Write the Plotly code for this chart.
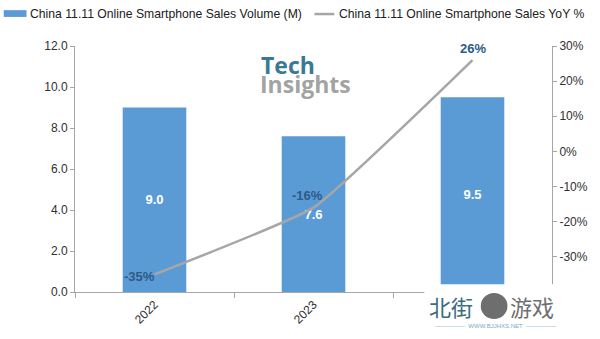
import plotly.graph_objects as go

years = ["2022", "2023", "2024"]
volume = [9.0, 7.6, 9.5]
yoy = [-35, -16, 26]
vol_labels = ["<b>9.0</b>", "<b>7.6</b>", "<b>9.5</b>"]
yoy_labels = ["-35%", "-16%", "26%"]
left_ticks = [0, 2, 4, 6, 8, 10, 12]
right_ticks = [-30, -20, -10, 0, 10, 20, 30]
series_names = ["China 11.11 Online Smartphone Sales Volume (M)",
                "China 11.11 Online Smartphone Sales YoY %"]

FONT = "Liberation Sans"
AX = "#A6A6A6"
L, R, T, B, W, H = 75, 43, 46, 39, 600, 339
PW, PH = W - L - R, H - T - B


def px(x):
    return (x - L) / PW


def py(y):
    return (H - B - y) / PH


fig = go.Figure()
fig.add_trace(go.Bar(
    x=years, y=volume, name=series_names[0],
    marker=dict(color="#5B9BD5", line=dict(width=0)), width=0.4,
    text=vol_labels, textposition="inside", insidetextanchor="middle",
    textfont=dict(color="white", size=13, family=FONT),
))
fig.add_trace(go.Scatter(
    x=years, y=yoy, yaxis="y2", mode="lines", name=series_names[1],
    line=dict(color="#A6A6A6", width=2.5, shape="spline", smoothing=0.35),
))
# YoY labels (category index positions)
pos = [("right", "middle", 2, -2), ("center", "bottom", -6, 3), ("center", "bottom", 0, 2)]
for i, (xa, ya, dx, dy) in enumerate(pos):
    fig.add_annotation(x=i, y=yoy[i], xref="x", yref="y2", text="<b>%s</b>" % yoy_labels[i],
                       showarrow=False, xanchor=xa, yanchor=ya, xshift=dx, yshift=dy,
                       font=dict(color="#2E5A87", size=13, family=FONT))

# manual legend
fig.add_shape(type="rect", xref="paper", yref="paper", x0=px(3), x1=px(26), y0=py(16), y1=py(9),
              fillcolor="#5B9BD5", line=dict(width=0))
fig.add_annotation(xref="paper", yref="paper", x=px(28), y=py(13), text=series_names[0],
                   showarrow=False, xanchor="left", yanchor="middle",
                   font=dict(size=12.2, family=FONT, color="#202020"))
fig.add_shape(type="line", xref="paper", yref="paper", x0=px(317), x1=px(337), y0=py(13), y1=py(13),
              line=dict(color="#A6A6A6", width=2.5))
fig.add_annotation(xref="paper", yref="paper", x=px(340), y=py(13), text=series_names[1],
                   showarrow=False, xanchor="left", yanchor="middle",
                   font=dict(size=12.2, family=FONT, color="#202020"))

# TechInsights logo watermark
fig.add_annotation(xref="paper", yref="paper", x=px(261), y=py(47), text="<b>Tech</b>",
                   showarrow=False, xanchor="left", yanchor="top",
                   font=dict(color="#3B7895", size=23, family="Open Sans"))
fig.add_annotation(xref="paper", yref="paper", x=px(260), y=py(67), text="<b>Insights</b>",
                   showarrow=False, xanchor="left", yanchor="top",
                   font=dict(color="#A3A3A3", size=23, family="Open Sans"))

# bottom site watermark
fig.add_shape(type="rect", xref="paper", yref="paper", x0=px(428), x1=px(600), y0=py(339), y1=py(292),
              fillcolor="white", line=dict(width=0), layer="above")
fig.add_annotation(xref="paper", yref="paper", x=px(431), y=py(314), text="北街",
                   showarrow=False, xanchor="left", yanchor="middle",
                   font=dict(color="#3A6C80", size=22, family="Noto Sans CJK SC"))
fig.add_shape(type="circle", xref="paper", yref="paper", x0=px(485), x1=px(512), y0=py(328), y1=py(301),
              fillcolor="#6E6E6E", line=dict(width=0), layer="above")
fig.add_annotation(xref="paper", yref="paper", x=px(513), y=py(314), text="游戏",
                   showarrow=False, xanchor="left", yanchor="middle",
                   font=dict(color="#6E6E6E", size=22, family="Noto Sans CJK SC"))
fig.add_annotation(xref="paper", yref="paper", x=px(500), y=py(335), text="—————  WWW.BJJHXS.NET  —————",
                   showarrow=False, xanchor="center", yanchor="middle",
                   font=dict(color="#7FA7C0", size=6, family=FONT))

fig.update_layout(
    width=W, height=H, plot_bgcolor="white", paper_bgcolor="white",
    margin=dict(l=L, r=R, t=T, b=B),
    font=dict(family=FONT, size=12, color="#404040"),
    showlegend=False,
    bargap=0.6,
    xaxis=dict(type="category", range=[-0.5, 2.5], showline=True, linecolor=AX, linewidth=1,
               ticks="outside", tickson="boundaries", ticklen=5, tickcolor=AX, tickangle=-45,
               tickfont=dict(size=12, color="#303030"), showgrid=False),
    yaxis=dict(range=[0, 12], tickvals=left_ticks, ticktext=["%.1f" % v for v in left_ticks],
               showline=True, linecolor=AX, linewidth=1, ticks="outside", ticklen=4, tickcolor=AX,
               showgrid=False, zeroline=False, tickfont=dict(size=12, color="#303030")),
    yaxis2=dict(range=[-40, 30], overlaying="y", side="right", tickvals=right_ticks,
                ticktext=["%d%%" % v for v in right_ticks], showline=True, linecolor=AX,
                linewidth=1, ticks="outside", ticklen=4, tickcolor=AX, showgrid=False,
                zeroline=False, tickfont=dict(size=12, color="#303030")),
)

fig.write_html("out.html")
